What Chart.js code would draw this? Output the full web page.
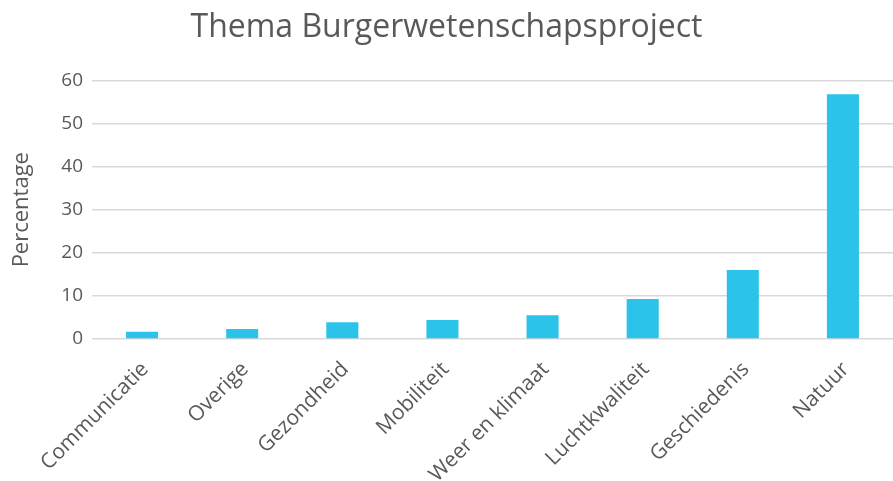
<!DOCTYPE html>
<html>
<head>
<meta charset="utf-8">
<script src="https://cdn.jsdelivr.net/npm/chart.js@4"></script>
<style>
  html, body { margin: 0; padding: 0; background: #fff; }
  #wrap { width: 893px; height: 481px; }
</style>
</head>
<body>
<div id="wrap"><canvas id="chart"></canvas></div>
<script>
// data
const categories = ['Communicatie', 'Overige', 'Gezondheid', 'Mobiliteit', 'Weer en klimaat', 'Luchtkwaliteit', 'Geschiedenis', 'Natuur'];
const percentages = [1.7, 2.3, 3.9, 4.4, 5.5, 9.3, 16.0, 56.8];
const yTicks = [0, 10, 20, 30, 40, 50, 60];

const textColor = '#595959';
const fontFamily = "'Open Sans', 'Noto Sans', sans-serif";

const ctx = document.getElementById('chart').getContext('2d');

new Chart(ctx, {
    type: 'bar',
    data: {
        labels: categories,
        datasets: [
            {
                label: 'Percentage',
                data: percentages,
                backgroundColor: '#2bc3ea',
                borderWidth: 0,
                barPercentage: 0.32,
                categoryPercentage: 1.0,
            },
        ],
    },
    options: {
        responsive: true,
        maintainAspectRatio: false,
        animation: false,
        layout: {
            padding: { left: 0, right: 0, top: 9, bottom: 0 },
        },
        plugins: {
            legend: { display: false },
            tooltip: { enabled: false },
            title: {
                display: true,
                text: 'Thema Burgerwetenschapsproject',
                color: textColor,
                font: { family: fontFamily, size: 32, weight: 'normal' },
                padding: { top: 0, bottom: 33 },
            },
        },
        scales: {
            x: {
                grid: { display: false },
                border: { display: false },
                afterFit: axis => { axis.height = 142; },
                ticks: {
                    color: textColor,
                    font: { family: fontFamily, size: 21 },
                    minRotation: 45,
                    maxRotation: 45,
                    padding: 10,
                    labelOffset: 3,
                },
            },
            y: {
                min: yTicks[0],
                max: yTicks[yTicks.length - 1],
                afterBuildTicks: axis => {
                    axis.ticks = yTicks.map(v => ({ value: v }));
                },
                afterFit: axis => { axis.width = 92; },
                grid: { color: '#d9d9d9', lineWidth: 1.5, drawTicks: false },
                border: { display: false },
                ticks: {
                    color: textColor,
                    font: { family: fontFamily, size: 19 },
                    padding: 9,
                },
                title: {
                    display: true,
                    text: 'Percentage',
                    color: textColor,
                    font: { family: fontFamily, size: 22 },
                    padding: { top: 9, bottom: 6 },
                },
            },
        },
    },
});
</script>
</body>
</html>
